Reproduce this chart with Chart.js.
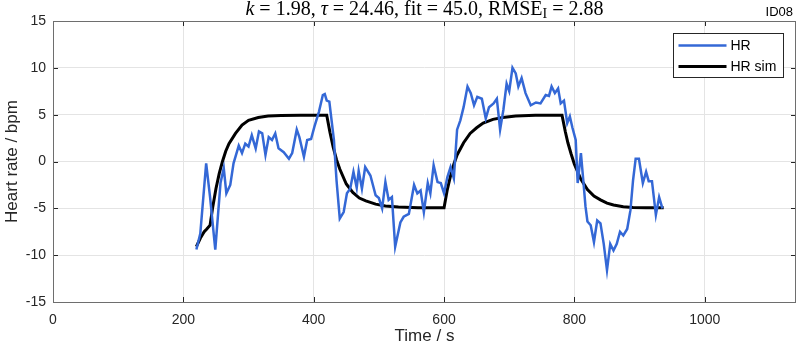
<!DOCTYPE html>
<html>
<head>
<meta charset="utf-8">
<script src="https://cdn.jsdelivr.net/npm/chart.js@4"></script>
<style>
  html, body { margin: 0; padding: 0; background: #fff; }
  #wrap { width: 796px; height: 350px; }
</style>
</head>
<body>
<div id="wrap"><canvas id="hrChart" width="796" height="350"></canvas></div>
<script>
// measured heart rate (time in s, value in bpm)
const hrTime = [220, 226, 235, 241, 249, 257, 262, 266, 272, 277, 285, 290, 295, 300, 305, 311, 316, 321, 326, 331,
  336, 341, 346, 354, 362, 367, 374, 378, 385, 390, 396, 401, 408, 414, 417, 420, 424, 431, 435, 440,
  446, 451, 456, 461, 466, 469, 474, 479, 487, 495, 500, 505, 510, 515, 520, 525, 533, 538, 546, 554,
  559, 564, 569, 575, 579, 584, 590, 595, 600, 605, 610, 615, 620, 625, 630, 636, 641, 646, 651, 658,
  664, 669, 676, 681, 686, 691, 696, 700, 705, 710, 714, 719, 725, 733, 741, 748, 756, 761, 765, 770,
  775, 779, 784, 789, 793, 797, 802, 805, 810, 814, 817, 820, 825, 830, 835, 840, 845, 850, 855, 860,
  865, 870, 875, 881, 886, 890, 894, 899, 905, 910, 914, 919, 925, 930, 935];
const hrValue = [-9.4, -7.7, -0.2, -3.8, -9.4, -2.3, -0.7, -3.4, -2.5, -0.2, 1.7, 0.9, 1.9, 1.6, 2.8, 1.4, 3.2, 3.0, 0.7, 2.6,
  2.3, 3.0, 1.4, 1.0, 0.3, 0.9, 3.4, 2.6, 0.5, 2.3, 2.4, 3.7, 5.3, 7.1, 7.2, 6.5, 6.4, 2.3, -2.0, -6.1,
  -5.4, -3.4, -2.9, -1.1, -2.8, -1.0, -2.9, -0.6, -1.5, -3.6, -3.9, -5.0, -2.2, -4.1, -3.8, -9.1, -6.5, -5.9, -5.6, -2.5,
  -3.4, -3.1, -5.4, -2.3, -3.4, -0.4, -2.2, -2.3, -3.4, -1.7, -0.6, -1.8, 3.4, 4.4, 5.8, 8.0, 7.3, 6.0, 6.9, 6.7,
  4.6, 5.8, 6.2, 6.7, 3.4, 5.5, 8.3, 7.5, 10.0, 9.4, 8.0, 8.9, 7.3, 6.0, 6.3, 6.2, 7.1, 7.0, 8.0, 7.3,
  7.8, 6.2, 6.5, 4.1, 4.8, 3.6, 2.3, -2.3, 0.9, -2.3, -4.8, -6.4, -6.8, -8.6, -6.3, -6.6, -8.8, -11.6, -8.8, -9.5,
  -8.8, -7.5, -7.9, -7.2, -5.2, -2.0, 0.3, 0.3, -2.3, -1.1, -2.1, -2.1, -5.7, -3.8, -5.0];

// simulated heart rate
const simTime = [220, 226, 232, 236, 241, 245, 250, 255, 260, 265, 270, 280, 290, 300, 315, 330, 350, 380, 420,
  425, 430, 435, 440, 450, 460, 470, 480, 495, 510, 530, 560, 600,
  605, 610, 615, 620, 630, 640, 650, 660, 675, 690, 710, 740, 781,
  786, 790, 795, 800, 810, 820, 830, 840, 850, 860, 875, 890, 910, 937];
const simValue = [-9.1, -8.2, -7.5, -7.2, -6.8, -4.9, -2.9, -1.3, 0.0, 1.1, 1.9, 3.0, 3.9, 4.4, 4.7, 4.85, 4.9, 4.95, 4.95,
  3.1, 1.5, 0.2, -0.8, -2.4, -3.3, -3.9, -4.2, -4.55, -4.75, -4.87, -4.93, -4.95,
  -3.0, -1.5, -0.3, 0.7, 2.0, 3.0, 3.6, 4.1, 4.5, 4.7, 4.85, 4.93, 4.95,
  3.2, 2.0, 0.8, -0.3, -1.9, -3.0, -3.7, -4.1, -4.45, -4.65, -4.82, -4.9, -4.94, -4.95];

const xTicks = [0, 200, 400, 600, 800, 1000];
const yTicks = [-15, -10, -5, 0, 5, 10, 15];

const FONT = "'Liberation Sans', Arial, sans-serif";
const SERIF = "'Liberation Serif', 'DejaVu Serif', serif";

// inward ticks + full box, like matlab axes
const boxPlugin = {
  id: "box",
  afterDraw(chart) {
    const { ctx, chartArea: a, scales } = chart;
    ctx.save();
    ctx.strokeStyle = "#262626";
    ctx.lineWidth = 1;
    const len = 5;
    ctx.beginPath();
    xTicks.forEach(v => {
      const x = Math.round(scales.x.getPixelForValue(v)) + 0.5;
      ctx.moveTo(x, a.bottom); ctx.lineTo(x, a.bottom - len);
      ctx.moveTo(x, a.top); ctx.lineTo(x, a.top + len);
    });
    yTicks.forEach(v => {
      const y = Math.round(scales.y.getPixelForValue(v)) + 0.5;
      ctx.moveTo(a.left, y); ctx.lineTo(a.left + len, y);
      ctx.moveTo(a.right, y); ctx.lineTo(a.right - len, y);
    });
    ctx.stroke();
    ctx.strokeStyle = "#6e6e6e";
    ctx.strokeRect(Math.round(a.left) + 0.5, Math.round(a.top) + 0.5,
      Math.round(a.right - a.left) - 1, Math.round(a.bottom - a.top));
    ctx.restore();
  }
};

// legend box in the upper right corner
const legendPlugin = {
  id: "boxLegend",
  afterDraw(chart) {
    const { ctx } = chart;
    const x = 673.5, y = 33.5, w = 110, h = 44;
    ctx.save();
    ctx.fillStyle = "#fff";
    ctx.fillRect(x, y, w, h);
    ctx.strokeStyle = "#262626";
    ctx.lineWidth = 1;
    ctx.strokeRect(x, y, w, h);
    ctx.font = "14px " + FONT;
    ctx.textBaseline = "middle";
    chart.data.datasets.forEach((ds, i) => {
      const ly = y + 12 + i * 21;
      ctx.strokeStyle = ds.borderColor;
      ctx.lineWidth = ds.borderWidth;
      ctx.beginPath();
      ctx.moveTo(x + 5, ly); ctx.lineTo(x + 53, ly);
      ctx.stroke();
      ctx.fillStyle = "#000";
      ctx.fillText(ds.label, x + 57, ly + 1);
    });
    ctx.restore();
  }
};

// latex-ish title and the id in the corner
const titlePlugin = {
  id: "mathTitle",
  afterDraw(chart) {
    const { ctx, chartArea: a } = chart;
    const parts = [
      { t: "k", it: true }, { t: " = 1.98, " }, { t: "\u03c4", it: true },
      { t: " = 24.46, fit = 45.0, RMSE" }, { t: "I", sub: true }, { t: " = 2.88" }
    ];
    const fs = 20;
    const fontOf = p => (p.it ? "italic " : "") + (p.sub ? 14 : fs) + "px " + SERIF;
    ctx.save();
    let total = 0;
    parts.forEach(p => { ctx.font = fontOf(p); total += ctx.measureText(p.t).width; });
    let x = (a.left + a.right) / 2 - total / 2;
    const base = 15;
    ctx.fillStyle = "#000";
    ctx.textBaseline = "alphabetic";
    parts.forEach(p => {
      ctx.font = fontOf(p);
      ctx.fillText(p.t, x, p.sub ? base + 3 : base);
      x += ctx.measureText(p.t).width;
    });
    ctx.font = "13px " + FONT;
    ctx.textAlign = "right";
    ctx.fillText("ID08", 793, 16);
    ctx.restore();
  }
};

const hrPoints = hrTime.map((t, i) => ({ x: t, y: hrValue[i] }));
const simPoints = simTime.map((t, i) => ({ x: t, y: simValue[i] }));

new Chart(document.getElementById("hrChart").getContext("2d"), {
  type: "line",
  data: {
    datasets: [
      { label: "HR", data: hrPoints, borderColor: "#3468d6", borderWidth: 2.5, pointRadius: 0, tension: 0 },
      { label: "HR sim", data: simPoints, borderColor: "#000000", borderWidth: 3, pointRadius: 0, tension: 0 }
    ]
  },
  options: {
    responsive: false,
    animation: false,
    devicePixelRatio: 1,
    layout: { padding: { top: 21, right: 0, bottom: 0, left: 0 } },
    plugins: { legend: { display: false }, tooltip: { enabled: false }, title: { display: false } },
    scales: {
      x: {
        type: "linear",
        min: 0,
        max: 1140,
        afterBuildTicks: s => { s.ticks = xTicks.map(v => ({ value: v })); },
        afterFit: s => { s.height = 48; },
        grid: { color: "#e4e4e4", drawTicks: false },
        border: { display: false },
        ticks: { font: { family: FONT, size: 14 }, color: "#262626", padding: 10, maxRotation: 0, callback: v => String(v) },
        title: { display: true, text: "Time / s", font: { family: FONT, size: 17 }, color: "#262626", padding: { top: 0, bottom: 3 } }
      },
      y: {
        min: -15,
        max: 15,
        afterBuildTicks: s => { s.ticks = yTicks.map(v => ({ value: v })); },
        afterFit: s => { s.width = 53; },
        grid: { color: "#e4e4e4", drawTicks: false },
        border: { display: false },
        ticks: { font: { family: FONT, size: 14 }, color: "#262626", padding: 7, callback: v => String(v) },
        title: { display: true, text: "Heart rate / bpm", font: { family: FONT, size: 17 }, color: "#262626", padding: { top: 2, bottom: 0 } }
      }
    }
  },
  plugins: [boxPlugin, legendPlugin, titlePlugin]
});
</script>
</body>
</html>
